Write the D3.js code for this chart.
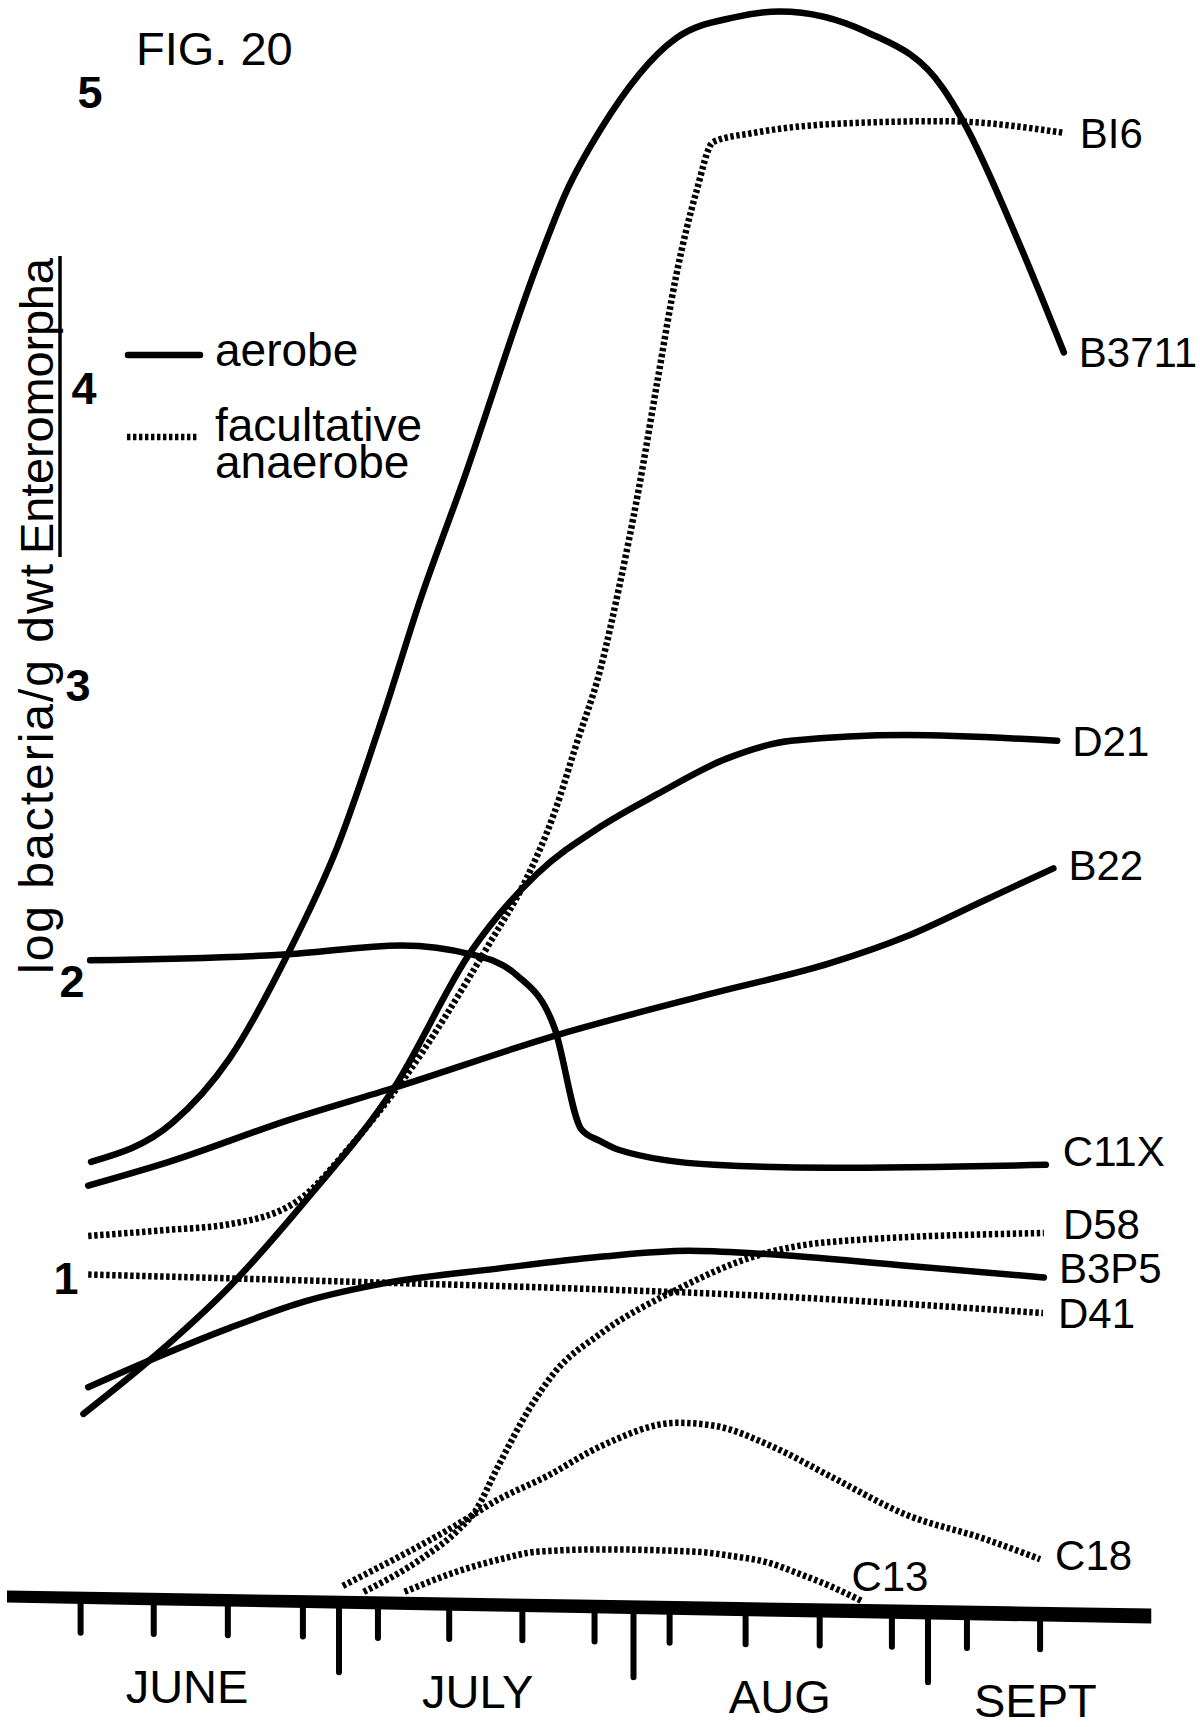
<!DOCTYPE html>
<html>
<head>
<meta charset="utf-8">
<title>Fig. 20</title>
<script src="https://cdn.jsdelivr.net/npm/d3@7"></script>
<style>
  body { margin: 0; background: #fff; }
  svg { display: block; font-family: "Liberation Sans", Arial, sans-serif; }
</style>
</head>
<body>
<svg id="chart" width="1200" height="1727"></svg>
<script>
// each point is [days since 1 June, log bacteria / g dwt]
const b16 = [[3.6, 1.14], [11.7, 1.16], [18.5, 1.18], [25.7, 1.26], [31.4, 1.45], [36.6, 1.66],
  [45.9, 2.13], [49.5, 2.33], [52.7, 2.57], [55.0, 2.80], [57.5, 3.05], [59.5, 3.33], [61.5, 3.65],
  [63.5, 4.02], [65.5, 4.38], [67.6, 4.66], [69.4, 4.83], [73.6, 4.86], [81.7, 4.89], [93.6, 4.90],
  [106.4, 4.86]];
const b3711 = [[3.9, 1.39], [12.4, 1.52], [18.5, 1.74], [24.6, 2.09], [29.8, 2.45], [34.7, 2.90],
  [38.6, 3.29], [43.0, 3.68], [50.8, 4.41], [53.9, 4.66], [57.5, 4.87], [65.5, 5.18], [71.6, 5.25],
  [76.4, 5.27], [85.6, 5.20], [93.6, 5.01], [95.7, 4.90], [101.7, 4.48], [106.3, 4.12]];
const d21 = [[3.1, 0.54], [10.4, 0.73], [18.5, 0.97], [26.5, 1.26], [35.8, 1.64], [43.9, 2.10],
  [50.8, 2.36], [57.5, 2.52], [63.5, 2.63], [70.8, 2.75], [77.6, 2.81], [89.7, 2.83], [105.6, 2.81]];
const b22 = [[3.6, 1.31], [12.1, 1.39], [24.6, 1.53], [35.8, 1.64], [53.2, 1.82], [69.5, 1.96],
  [81.7, 2.06], [89.7, 2.15], [97.8, 2.27], [105.2, 2.38]];
const c11x = [[3.8, 2.07], [24.6, 2.09], [36.6, 2.12], [43.9, 2.09], [48.7, 2.02], [52.7, 1.84],
  [55.5, 1.50], [57.5, 1.46], [59.5, 1.43], [69.5, 1.38], [81.7, 1.37], [104.4, 1.38]];
const d58 = [[32.6, -0.06], [38.6, 0.05], [42.6, 0.15], [44.3, 0.21], [46.7, 0.36], [49.9, 0.55],
  [52.7, 0.68], [57.5, 0.81], [65.6, 0.96], [73.6, 1.07], [81.7, 1.12], [104.2, 1.15]];
const b3p5 = [[3.6, 0.63], [9.3, 0.71], [18.5, 0.83], [26.5, 0.92], [34.7, 0.98], [46.7, 1.03],
  [57.5, 1.07], [66.8, 1.09], [74.4, 1.08], [89.7, 1.04], [104.2, 1.00]];
const d41 = [[3.6, 1.01], [26.5, 0.99], [57.5, 0.96], [73.6, 0.94], [104.1, 0.88]];
const c18 = [[30.4, -0.04], [42.6, 0.17], [46.7, 0.25], [51.9, 0.33], [57.5, 0.43], [65.6, 0.51],
  [69.5, 0.50], [75.6, 0.43], [81.7, 0.33], [89.7, 0.20], [97.8, 0.12], [103.8, 0.05]];
const c13 = [[36.9, -0.06], [42.6, 0.01], [47.0, 0.05], [50.8, 0.075], [57.5, 0.083], [67.6, 0.075],
  [71.5, 0.06], [75.0, 0.04], [78.5, 0.0], [82.0, -0.045], [85.2, -0.094]];

const seriesNames = ["BI6", "B3711", "D21", "B22", "C11X", "D58", "B3P5", "D41", "C18", "C13"];
const seriesTypes = ["facultative", "aerobe", "aerobe", "aerobe", "aerobe",
  "facultative", "aerobe", "facultative", "facultative", "facultative"];
const seriesValues = [b16, b3711, d21, b22, c11x, d58, b3p5, d41, c18, c13];

// sampling ticks (days), month boundaries and month names
const sampleDays = [2.8, 10.5, 18.3, 26.2, 34.1, 41.6, 49.3, 56.9, 64.8, 72.8, 80.6, 88.2, 96.1, 103.8];
const monthStarts = [30, 61, 92];
const monthNames = ["JUNE", "JULY", "AUG", "SEPT"];
const monthLabelDays = [14, 44.6, 76.4, 103.3];
const yTicks = [1, 2, 3, 4, 5];

const svg = d3.select("#chart");
svg.append("rect").attr("width", 1200).attr("height", 1727).attr("fill", "#fff");

const x = d3.scaleLinear().domain([0, 100]).range([54, 1004]);
const y = d3.scaleLinear().domain([0, 5]).range([1574, 91.5]);

// the hand drawn base line sags a little to the right
const axisDays = [-4.95, 115.5];
const axisLevel = d3.scaleLinear().domain(axisDays).range([-0.076, -0.142]);
const baseY = d => y(axisLevel(d));
const baseWidth = d3.scaleLinear().domain(axisDays).range([12, 15]);

const line = d3.line()
  .x(d => x(d[0]))
  .y(d => y(d[1]))
  .curve(d3.curveMonotoneX);

function styleLine(sel, type) {
  sel.attr("fill", "none")
    .attr("stroke", "#000")
    .attr("stroke-width", 6.5)
    .attr("stroke-linecap", type === "aerobe" ? "round" : "butt")
    .attr("stroke-dasharray", type === "aerobe" ? null : "3.4 2.6");
}

// series lines
const lines = svg.append("g");
seriesValues.forEach((vals, i) => {
  lines.append("path").attr("d", line(vals)).call(styleLine, seriesTypes[i]);
});

// series labels sit just past the last point
const labelNudge = { B22: [0, -3], C11X: [2, -14], D58: [4, -9], B3P5: [0, -10], C18: [0, -4], C13: [-27, -26] };
seriesValues.forEach((vals, i) => {
  const last = vals[vals.length - 1];
  const nudge = labelNudge[seriesNames[i]] || [0, 0];
  svg.append("text")
    .attr("x", x(last[0]) + 15 + nudge[0])
    .attr("y", y(last[1]) + nudge[1] + 15)
    .attr("font-size", 42)
    .text(seriesNames[i]);
});

// x axis: thick base line with sampling ticks and month ticks
const ax = svg.append("g");
const edge = d3.range(axisDays[0], axisDays[1] + 0.1, (axisDays[1] - axisDays[0]) / 8);
const topEdge = edge.map(d => [x(d), baseY(d) - baseWidth(d) / 2]);
const botEdge = edge.map(d => [x(d), baseY(d) + baseWidth(d) / 2]).reverse();
ax.append("path")
  .attr("d", d3.line()(topEdge.concat(botEdge)) + "Z")
  .attr("fill", "#000");

ax.selectAll(".tick")
  .data(sampleDays)
  .join("line")
  .attr("x1", d => x(d)).attr("x2", d => x(d))
  .attr("y1", d => baseY(d)).attr("y2", d => baseY(d) + 35)
  .attr("stroke", "#000").attr("stroke-width", 6).attr("stroke-linecap", "round");

ax.selectAll(".month")
  .data(monthStarts)
  .join("line")
  .attr("x1", d => x(d)).attr("x2", d => x(d))
  .attr("y1", d => baseY(d)).attr("y2", d => baseY(d) + 70)
  .attr("stroke", "#000").attr("stroke-width", 6).attr("stroke-linecap", "round");

ax.selectAll(".mname")
  .data(monthNames)
  .join("text")
  .attr("x", (d, i) => x(monthLabelDays[i]))
  .attr("y", (d, i) => baseY(monthLabelDays[i]) + 103)
  .attr("text-anchor", "middle")
  .attr("font-size", 47)
  .text(d => d);

// y tick numbers, bold, drifting left as they go down like the lettering
svg.selectAll(".ylab")
  .data(yTicks)
  .join("text")
  .attr("x", d => 60 + 6 * d)
  .attr("y", d => y(d) + 16)
  .attr("text-anchor", "middle")
  .attr("font-size", 45)
  .attr("font-weight", "bold")
  .text(d => d);

// y axis title, rotated, with the genus underlined
const title = svg.append("g").attr("transform", "translate(53,974) rotate(-90)");
title.append("text")
  .attr("x", 0).attr("y", 0)
  .attr("font-size", 48)
  .attr("textLength", 410).attr("lengthAdjust", "spacing")
  .text("log bacteria/g dwt");
title.append("text")
  .attr("x", 420).attr("y", 0)
  .attr("font-size", 47)
  .attr("textLength", 296).attr("lengthAdjust", "spacing")
  .text("Enteromorpha");
title.append("line")
  .attr("x1", 417).attr("x2", 718)
  .attr("y1", 7).attr("y2", 7)
  .attr("stroke", "#000").attr("stroke-width", 3.5);

// figure number
svg.append("text")
  .attr("x", 136).attr("y", 65)
  .attr("font-size", 47)
  .text("FIG. 20");

// legend (tight leading on the second entry, as printed)
const legend = svg.append("g");
legend.append("line").attr("x1", 128).attr("x2", 200).attr("y1", 355).attr("y2", 355).call(styleLine, "aerobe");
legend.append("line").attr("x1", 127).attr("x2", 198).attr("y1", 437).attr("y2", 437).call(styleLine, "facultative");
legend.append("text").attr("x", 215).attr("y", 366).attr("font-size", 46).text("aerobe");
const fac = legend.append("text").attr("font-size", 46);
fac.append("tspan").attr("x", 215).attr("y", 441).text("facultative");
fac.append("tspan").attr("x", 215).attr("y", 478).text("anaerobe");
</script>
</body>
</html>
